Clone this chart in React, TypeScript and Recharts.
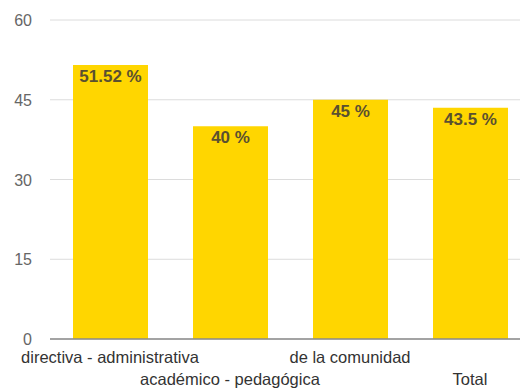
import React from 'react';
import { BarChart, Bar, XAxis, YAxis, CartesianGrid, LabelList } from 'recharts';

const categories = ['directiva - administrativa', 'académico - pedagógica', 'de la comunidad', 'Total'];
const values = [51.52, 40, 45, 43.5];
const valueLabels = ['51.52 %', '40 %', '45 %', '43.5 %'];
const yTicks = [0, 15, 30, 45, 60];

const data = categories.map((c, i) => ({ name: c, value: values[i], label: valueLabels[i] }));

const FONT = '"Liberation Sans", Arial, sans-serif';

const XTick = (props: any) => {
  const { x, y, payload, index } = props;
  const dy = index % 2 === 0 ? 16 : 38;
  return (
    <text x={x} y={y + dy} textAnchor="middle" fontFamily={FONT} fontSize={16.5} fill="#333">
      {payload.value}
    </text>
  );
};

const YTick = (props: any) => {
  const { y, payload } = props;
  return (
    <text x={32} y={y + 6} textAnchor="end" fontFamily={FONT} fontSize={16} fill="#666">
      {payload.value}
    </text>
  );
};

export default function App() {
  return (
    <div style={{ position: 'absolute', left: 0, top: 0, width: 520, height: 388, overflow: 'hidden', background: '#fff' }}>
      <BarChart width={530} height={388} data={data} margin={{ top: 20, right: 0, left: 0, bottom: 0 }}>
        <CartesianGrid vertical={false} stroke="#dcdcdc" />
        <XAxis
          dataKey="name"
          height={49}
          tick={<XTick />}
          tickLine={false}
          axisLine={{ stroke: '#8a8a8a', strokeWidth: 1.5 }}
          interval={0}
        />
        <YAxis
          width={50}
          domain={[0, 60]}
          ticks={yTicks}
          tick={<YTick />}
          tickLine={false}
          axisLine={false}
        />
        <Bar dataKey="value" fill="#FFD600" barSize={75} isAnimationActive={false}>
          <LabelList
            dataKey="label"
            position="insideTop"
            offset={5}
            fill="#5a5030"
            fontWeight="bold"
            fontSize={17}
            fontFamily={FONT}
          />
        </Bar>
      </BarChart>
    </div>
  );
}
